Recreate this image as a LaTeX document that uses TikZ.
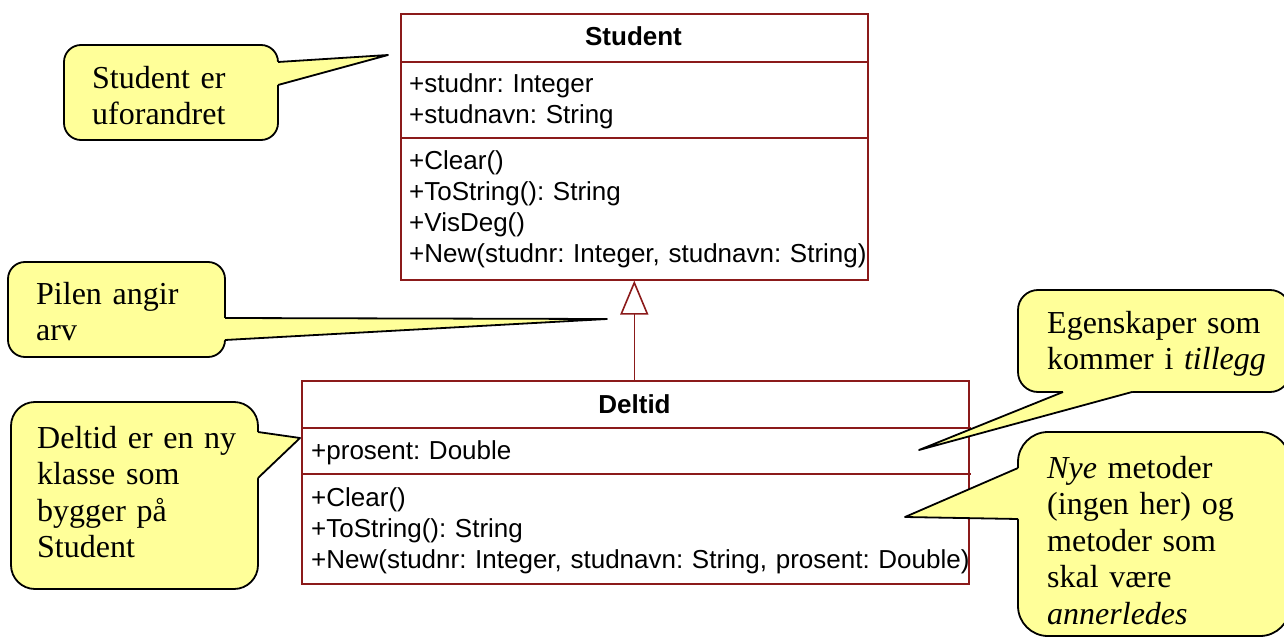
\documentclass[tikz,border=0pt]{standalone}
\usepackage{fontspec}
\setmainfont{Liberation Serif}
\newfontfamily\arialfont{Liberation Sans}
\usetikzlibrary{arrows.meta}
\frenchspacing

\definecolor{umlrod}{RGB}{139,26,26}
\definecolor{lappgul}{RGB}{255,255,153}

\begin{document}
\begin{tikzpicture}[
        x = 1pt, y = -1pt,
        klasse/.style = {draw = umlrod, line width = 1.6pt, rectangle, anchor = north west, inner sep = 0pt},
        strek/.style = {draw = umlrod, line width = 1.6pt},
        tittel/.style = {anchor = base, inner sep = 0pt, font = \arialfont\bfseries\fontsize{26}{31}\selectfont},
        felt/.style = {anchor = north west, inner sep = 0pt, text width = 680pt, align = left,
            font = \arialfont\fontsize{26}{31}\selectfont, execute at begin node = \strut},
        boble/.style = {draw = black, fill = lappgul, line width = 1.8pt},
        spiss/.style = {draw = black, line width = 1.8pt, line join = round},
        bobletekst/.style = {anchor = north west, inner sep = 0pt, text width = 250pt, align = left,
            font = \fontsize{32}{36.5}\selectfont, execute at begin node = \strut},
        arv/.style = {draw = umlrod, line width = 1.6pt, -{Triangle[open, length = 34pt, width = 28pt]}}
    ]
    \clip (0, 0) rectangle (1284, 639);

    % klassene
    \node[klasse, minimum width = 467pt, minimum height = 266pt] (student) at (400, 13) {};
    \draw[strek] (400, 62) -- (869, 62) (400, 138) -- (869, 138);
    \node[tittel] (student-navn) at (633.5, 46) {Student};
    \node[felt] (student-attr) at (409, 70.3) {+studnr: Integer\\+studnavn: String};
    \node[felt] (student-metoder) at (409, 147.3)
        {+Clear()\\+ToString(): String\\+VisDeg()\\+New(studnr: Integer, studnavn: String)};

    \node[klasse, minimum width = 667pt, minimum height = 203pt] (deltid) at (301, 380) {};
    \draw[strek] (301, 428) -- (971, 428) (301, 474) -- (971, 474);
    \node[tittel] (deltid-navn) at (634.5, 413) {Deltid};
    \node[felt] (deltid-attr) at (311, 437.3) {+prosent: Double};
    \node[felt] (deltid-metoder) at (311, 484.3)
        {+Clear()\\+ToString(): String\\+New(studnr: Integer, studnavn: String, prosent: Double)};

    \draw[arv] (deltid.north -| student.south) -- (student.south);

    % snakkebobler
    \draw[boble, rounded corners = 17pt] (64, 45) rectangle (278, 140);
    \fill[lappgul] (275, 62) -- (278, 62) -- (388, 55) -- (278, 85) -- (275, 85) -- cycle;
    \draw[spiss] (278, 62) -- (388, 55) -- (278, 85);

    \draw[boble, rounded corners = 17pt] (8, 262) rectangle (225, 357);
    \fill[lappgul] (222, 318) -- (225, 318) -- (607, 319) -- (225, 340) -- (222, 340) -- cycle;
    \draw[spiss] (225, 318) -- (607, 319) -- (225, 340);

    \draw[boble, rounded corners = 24pt] (11, 402) rectangle (258, 589);
    \fill[lappgul] (255, 432) -- (258, 432) -- (300, 438) -- (258, 478) -- (255, 478) -- cycle;
    \draw[spiss] (258, 432) -- (300, 438) -- (258, 478);

    \draw[boble, rounded corners = 20pt] (1018, 290) rectangle (1290, 392);
    \fill[lappgul] (1132, 389) -- (1132, 392) -- (919, 450) -- (1063, 392) -- (1063, 389) -- cycle;
    \draw[spiss] (1132, 392) -- (919, 450) -- (1063, 392);

    \draw[boble, rounded corners = 30pt] (1018, 432) rectangle (1290, 636);
    \fill[lappgul] (1021, 468) -- (1018, 468) -- (905, 517) -- (1018, 519) -- (1021, 519) -- cycle;
    \draw[spiss] (1018, 468) -- (905, 517) -- (1018, 519);

    \node[bobletekst] (uforandret) at (92, 62.45) {Student er\\uforandret};
    \node[bobletekst] (pilen) at (36, 278.5) {Pilen angir\\arv};
    \node[bobletekst] (ny-klasse) at (37, 422.5) {Deltid er en ny\\klasse som\\bygger på\\Student};
    \node[bobletekst] (tillegg) at (1047, 307.5) {Egenskaper som\\kommer i \textit{tillegg}};
    \node[bobletekst] (nye-metoder) at (1047, 452.5)
        {\textit{Nye} metoder\\(ingen her) og\\metoder som\\skal være\\\textit{annerledes}};
\end{tikzpicture}
\end{document}
